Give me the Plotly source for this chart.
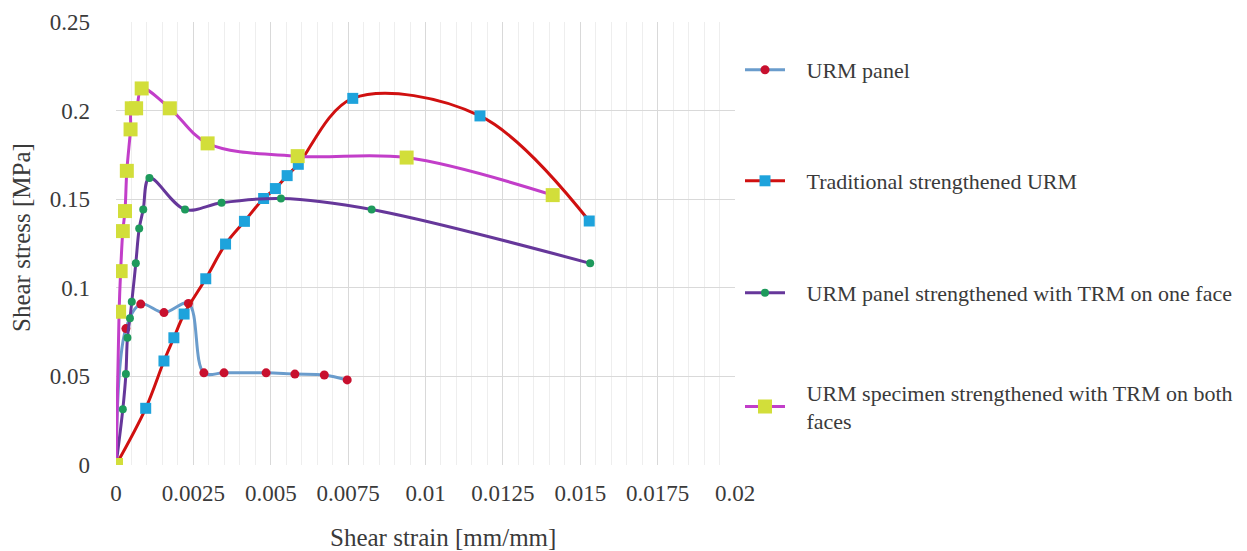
import plotly.graph_objects as go

# Shear strain [mm/mm] and shear stress [MPa] for each specimen
urm_strain = [0.0, 0.00032, 0.0008, 0.00155, 0.00234, 0.00284, 0.00349, 0.00485, 0.00578, 0.00673, 0.00747]
urm_stress = [0.0, 0.077, 0.0908, 0.086, 0.0912, 0.052, 0.052, 0.052, 0.0513, 0.0508, 0.048]

trad_strain = [0.0, 0.00096, 0.00155, 0.00187, 0.0022, 0.0029, 0.00354, 0.00415, 0.00477, 0.00515,
               0.00553, 0.00589, 0.00765, 0.01176, 0.01529]
trad_stress = [0.0, 0.032, 0.0587, 0.0718, 0.0852, 0.1051, 0.1247, 0.1375, 0.1504, 0.156,
               0.1633, 0.1697, 0.2069, 0.197, 0.1377]

one_strain = [0.0, 0.00022, 0.00032, 0.00037, 0.00045, 0.00051, 0.00064, 0.00075, 0.00088, 0.00108,
              0.00223, 0.00341, 0.00533, 0.00826, 0.01532]
one_stress = [0.0, 0.0314, 0.0514, 0.0718, 0.0828, 0.0921, 0.1138, 0.1335, 0.1442, 0.162,
              0.1442, 0.148, 0.1504, 0.1442, 0.1138]

both_strain = [0.0, 0.0001, 0.00015, 0.00022, 0.00029, 0.00035, 0.00047, 0.00051, 0.00065, 0.00083,
               0.00174, 0.00296, 0.00587, 0.00939, 0.01411]
both_stress = [0.0, 0.0865, 0.1094, 0.132, 0.1433, 0.166, 0.1894, 0.2013, 0.2013, 0.2125,
               0.2013, 0.1815, 0.1743, 0.1735, 0.1523]

series_names = [
    "URM panel",
    "Traditional strengthened URM",
    "URM panel strengthened with TRM on one face",
    "URM specimen strengthened with TRM on both<br>faces",
]

x_title = "Shear strain [mm/mm]"
y_title = "Shear stress [MPa]"
x_tickvals = [0, 0.0025, 0.005, 0.0075, 0.01, 0.0125, 0.015, 0.0175, 0.02]
x_ticktext = ["0", "0.0025", "0.005", "0.0075", "0.01", "0.0125", "0.015", "0.0175", "0.02"]
y_tickvals = [0, 0.05, 0.1, 0.15, 0.2, 0.25]
y_ticktext = ["0", "0.05", "0.1", "0.15", "0.2", "0.25"]

FONT = "Liberation Serif, Times New Roman, serif"
TEXT = "#3a3a3a"
PAD = "\u00a0\u00a0\u00a0"  # gap between legend symbol and label

# plot area in pixels, used to place the legend entries and titles
PLOT_L, PLOT_R, PLOT_T, PLOT_B = 116, 735, 22, 465
W, H = 1247, 551
legend_centers_px = [70, 181, 293, 407]

styles = [
    dict(line="#6a9ccc", marker="#c8102e", symbol="circle", size=9),
    dict(line="#d01010", marker="#1ea3dc", symbol="square", size=11),
    dict(line="#66379a", marker="#1e9a5c", symbol="circle", size=8),
    dict(line="#c23ec9", marker="#d2de3a", symbol="square", size=14),
]
data = [(urm_strain, urm_stress), (trad_strain, trad_stress),
        (one_strain, one_stress), (both_strain, both_stress)]


def px_to_paper_y(py):
    return (PLOT_B - py) / (PLOT_B - PLOT_T)


def px_to_paper_x(px):
    return (px - PLOT_L) / (PLOT_R - PLOT_L)


fig = go.Figure()
legend_layouts = {}
for i, ((xs, ys), name, st) in enumerate(zip(data, series_names, styles)):
    label = PAD + name.replace("<br>", "<br>" + PAD)
    legend_id = "legend" if i == 0 else f"legend{i + 1}"
    fig.add_trace(go.Scatter(
        x=xs, y=ys, name=label, mode="lines+markers",
        legend=legend_id,
        line=dict(color=st["line"], width=3, shape="spline", smoothing=1.0),
        marker=dict(color=st["marker"], symbol=st["symbol"], size=st["size"], line=dict(width=0)),
    ))
    legend_layouts[legend_id] = dict(
        xref="container", yref="container",
        x=740 / W, xanchor="left",
        y=1 - legend_centers_px[i] / H, yanchor="middle",
        font=dict(family=FONT, size=22, color=TEXT),
        itemwidth=40, bgcolor="rgba(0,0,0,0)",
    )

fig.update_layout(
    width=W, height=H,
    margin=dict(l=PLOT_L, r=W - PLOT_R, t=PLOT_T, b=H - PLOT_B, autoexpand=False),
    paper_bgcolor="white", plot_bgcolor="white",
    font=dict(family=FONT, size=22, color=TEXT),
    showlegend=True,
    annotations=[
        dict(text=x_title, xref="paper", yref="paper", x=px_to_paper_x(443), y=px_to_paper_y(537),
             xanchor="center", yanchor="middle", showarrow=False,
             font=dict(family=FONT, size=25, color=TEXT)),
        dict(text=y_title, xref="paper", yref="paper", x=px_to_paper_x(22), y=px_to_paper_y(238),
             xanchor="center", yanchor="middle", textangle=-90, showarrow=False,
             font=dict(family=FONT, size=25, color=TEXT)),
    ],
    **legend_layouts,
)

fig.update_xaxes(
    range=[0, 0.02], tickvals=x_tickvals, ticktext=x_ticktext,
    showgrid=True, gridcolor="#d9d9d9", gridwidth=1,
    minor=dict(dtick=0.0005, showgrid=True, gridcolor="#eeeeee", gridwidth=1),
    zeroline=False, showline=False, ticks="", ticklabelstandoff=12,
    tickfont=dict(family=FONT, size=23, color=TEXT),
)
fig.update_yaxes(
    range=[0, 0.25], tickvals=y_tickvals, ticktext=y_ticktext,
    showgrid=True, gridcolor="#d9d9d9", gridwidth=1,
    zeroline=False, showline=False, ticks="", ticklabelstandoff=25,
    tickfont=dict(family=FONT, size=23, color=TEXT),
)

fig.write_html("out.html")
